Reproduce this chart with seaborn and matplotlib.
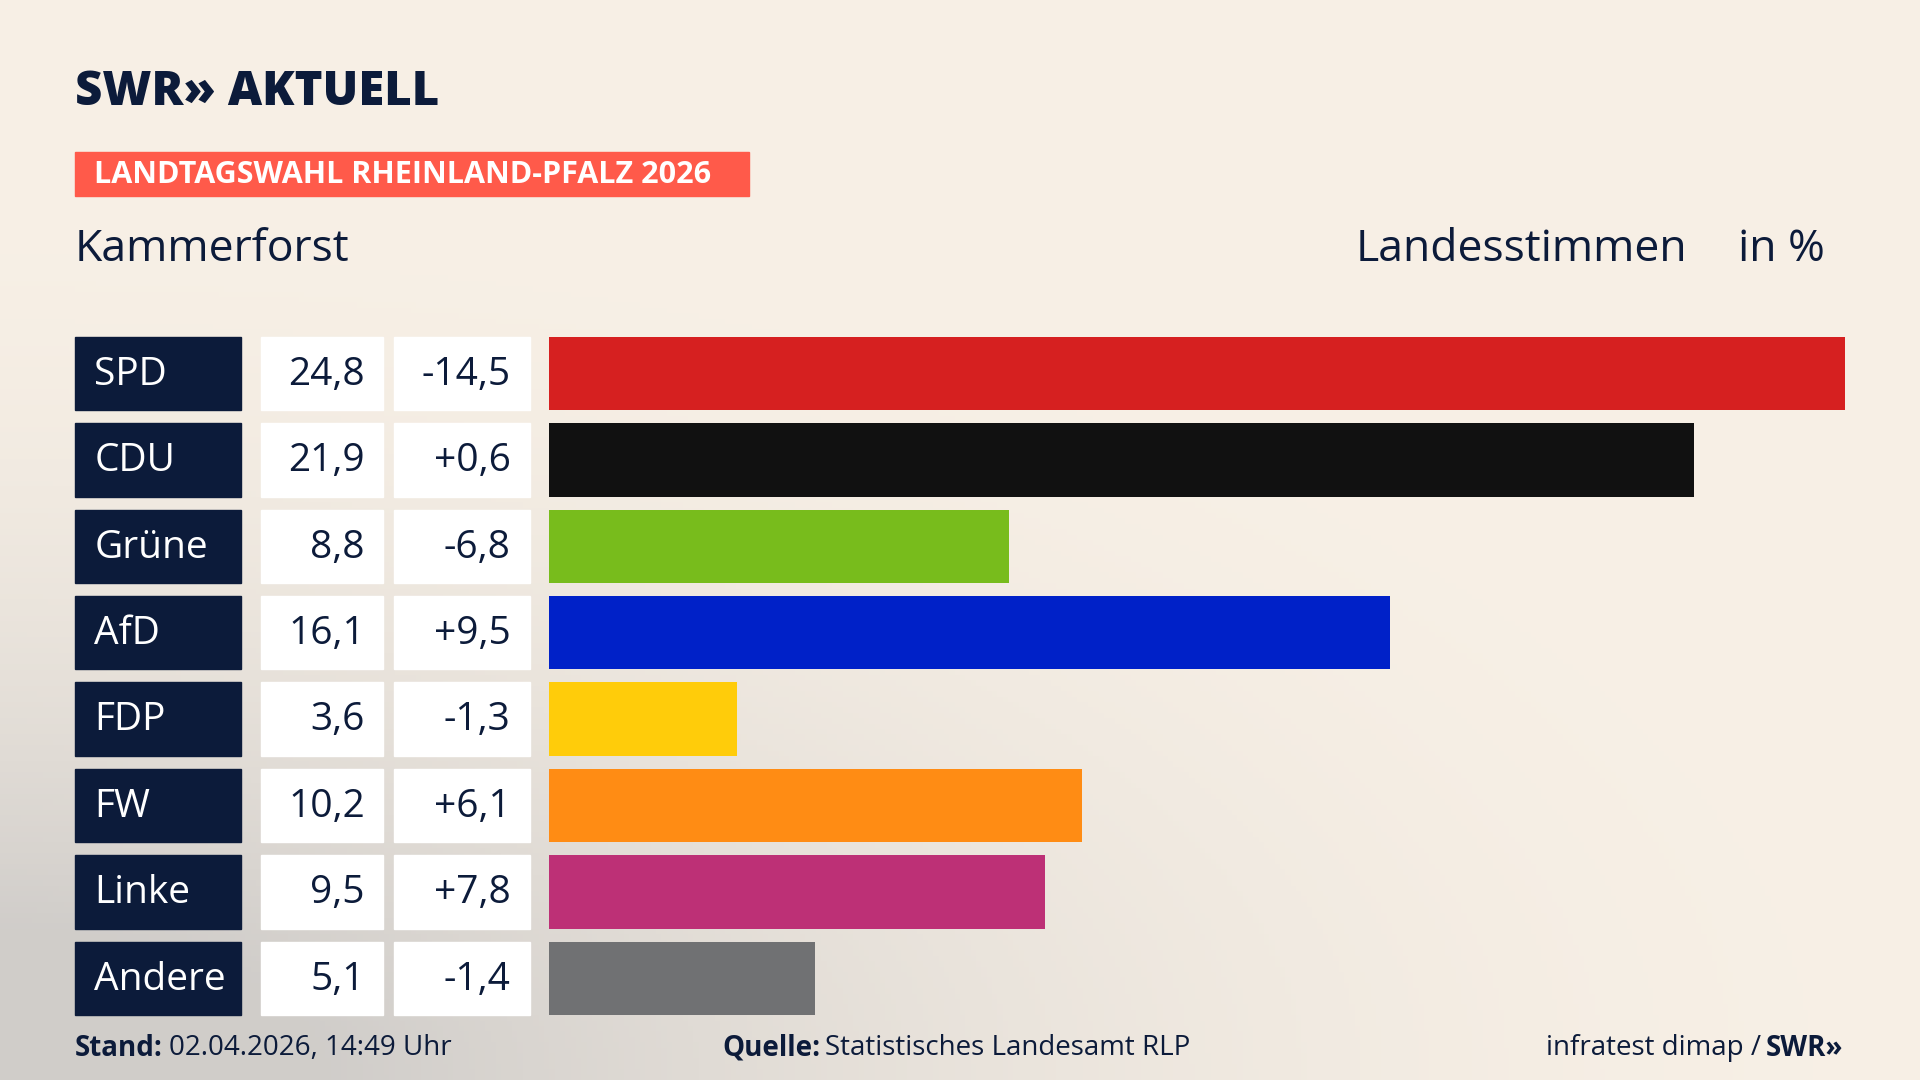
import numpy as np
import pandas as pd
import matplotlib
matplotlib.use('Agg')
import matplotlib.pyplot as plt
import seaborn as sns
from matplotlib.patches import Rectangle

parteien = ['SPD', 'CDU', 'Grüne', 'AfD', 'FDP', 'FW', 'Linke', 'Andere']
stimmen = [24.8, 21.9, 8.8, 16.1, 3.6, 10.2, 9.5, 5.1]
diff = ['-14,5', '+0,6', '-6,8', '+9,5', '-1,3', '+6,1', '+7,8', '-1,4']
farben = ['#D62020', '#111111', '#78BC1C', '#0021C8', '#FFCC0A', '#FF8C14', '#BD3076', '#707173']

sns.set_theme(style='white')
plt.rcParams['font.family'] = ['Open Sans', 'DejaVu Sans']

W, H = 1568, 882
fig = plt.figure(figsize=(19.2, 10.8), dpi=100)
NAVY = '#0C1B3A'

# Hintergrund mit leichtem Verlauf
bg = fig.add_axes([0, 0, 1, 1])
yy, xx = np.mgrid[0:1:200j, 0:1:360j]
d = np.clip(1.2 - np.sqrt((xx * 1.3) ** 2 + (yy * 1.6) ** 2) * 0.9, 0, 1)
c1 = np.array([0.97, 0.94, 0.90])
c2 = np.array([0.80, 0.79, 0.78])
img = c1 + (c2 - c1) * (d[..., None] ** 2) * 0.9
bg.imshow(img, extent=[0, 1, 0, 1], aspect='auto', origin='lower')
bg.set_axis_off()

def fx(x):
    return x / W

def fy(y):
    return 1 - y / H

# Balken
ax = fig.add_axes([fx(448), fy(829), fx(1507) - fx(448), fy(275) - fy(829)])
df = pd.DataFrame({'partei': parteien, 'wert': stimmen})
sns.barplot(data=df, x='wert', y='partei', hue='partei', palette=farben,
            order=parteien, width=0.85, legend=False, ax=ax, saturation=1,
            linewidth=0)
ax.set_xlim(0, 24.8)
ax.set_ylim(7.425, -0.425)
ax.set_axis_off()
ax.patch.set_alpha(0)

FS = 28
row_h = (829 - 275 - 60) / 7
for i, p in enumerate(parteien):
    top = 275 + i * row_h
    bot = top + 60
    fig.patches.append(Rectangle((fx(61), fy(bot)), fx(197 - 61), fy(top) - fy(bot),
                                 transform=fig.transFigure, color=NAVY))
    fig.patches.append(Rectangle((fx(213), fy(bot)), fx(313 - 213), fy(top) - fy(bot),
                                 transform=fig.transFigure, color='white'))
    fig.patches.append(Rectangle((fx(322), fy(bot)), fx(433 - 322), fy(top) - fy(bot),
                                 transform=fig.transFigure, color='white'))
    ym = fy(top + 31)
    fig.text(fx(77), ym, p, color='white', fontsize=FS, va='center', ha='left')
    fig.text(fx(298), ym, f'{stimmen[i]:.1f}'.replace('.', ','), color=NAVY,
             fontsize=FS, va='center', ha='right')
    fig.text(fx(417), ym, diff[i], color=NAVY, fontsize=FS, va='center', ha='right')

# Kopf
fig.text(fx(61), fy(76), 'SWR» AKTUELL', color=NAVY, fontsize=34,
         fontweight='heavy', va='center')
fig.patches.append(Rectangle((fx(61), fy(160)), fx(612 - 61), fy(124) - fy(160),
                             transform=fig.transFigure, color='#FF5A4A'))
fig.text(fx(77), fy(143), 'LANDTAGSWAHL RHEINLAND-PFALZ 2026', color='white',
         fontsize=22, fontweight='bold', va='center')
fig.text(fx(61), fy(204), 'Kammerforst', color=NAVY, fontsize=32, va='center')
fig.text(fx(1378), fy(204), 'Landesstimmen', color=NAVY, fontsize=32,
         va='center', ha='right')
fig.text(fx(1490), fy(204), 'in %', color=NAVY, fontsize=32,
         va='center', ha='right')

# Fuss
fig.text(fx(61), fy(856), 'Stand:', color=NAVY, fontsize=20, fontweight='bold', va='center')
fig.text(fx(138), fy(856), '02.04.2026, 14:49 Uhr', color=NAVY, fontsize=20, va='center')
fig.text(fx(590), fy(856), 'Quelle:', color=NAVY, fontsize=20, fontweight='bold', va='center')
fig.text(fx(674), fy(856), 'Statistisches Landesamt RLP', color=NAVY, fontsize=20, va='center')
fig.text(fx(1438), fy(856), 'infratest dimap /', color=NAVY, fontsize=20,
         va='center', ha='right')
fig.text(fx(1505), fy(856), 'SWR»', color=NAVY, fontsize=20, fontweight='bold',
         va='center', ha='right')

fig.savefig('out.png', dpi=100)
